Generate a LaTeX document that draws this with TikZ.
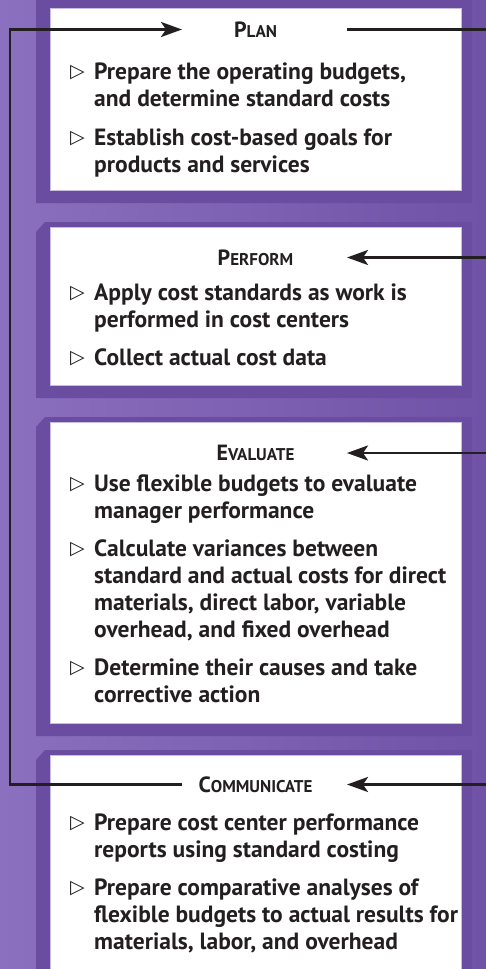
\documentclass[tikz,border=0pt]{standalone}
\usepackage{fontspec}
\setmainfont{PT Sans}
\newfontfamily\symfont{DejaVu Sans}
\usetikzlibrary{arrows.meta,positioning}

\definecolor{ink}{HTML}{231F20}
\definecolor{bgleft}{HTML}{8A70BE}
\definecolor{bgright}{HTML}{7052A6}
\definecolor{framec}{HTML}{6A4CA0}
\definecolor{boxedge}{HTML}{C9BCE2}

\newcommand\caphead[2]{{\fontsize{22}{22}\selectfont #1}{\fontsize{17}{17}\selectfont #2}}
\newcommand\pnt{\raisebox{1.5pt}{\symfont\fontsize{19}{19}\selectfont ▷}}
\newcommand\panelframe[2]{% top, bottom
  \fill[framec] (36,#1+5) -- (45,#1-5) -- (472,#1-5) -- (472,#2+13) -- (36,#2+13) -- cycle;}

\tikzset{
  panel/.style={fill=white, draw=boxedge, line width=0.8pt, anchor=north west,
    minimum width=411pt, inner sep=0pt},
  heading/.style={font=\bfseries, text=ink, inner sep=0pt},
  points/.style={anchor=base west, inner sep=0pt,
    font=\bfseries\fontsize{23.5}{27}\selectfont, text=ink},
  loopline/.style={draw=ink, line width=2.8pt},
  flow/.style={loopline, -{Stealth[length=21pt,width=15pt,inset=5pt]}}
}

\begin{document}
\begin{tikzpicture}[x=1pt,y=-1pt]
\useasboundingbox (0,0) rectangle (486,969);
\clip (0,0) rectangle (486,969);
\shade[left color=bgleft, right color=bgright] (0,0) rectangle (486,969);

% frames and white panels
\panelframe{-20}{190}
\panelframe{227}{385}
\panelframe{422}{723}
\panelframe{755}{990}

\node[panel, minimum height=182pt] (planbox) at (50,8) {};
\node[panel, minimum height=158pt] (perfbox) at (50,227) {};
\node[panel, minimum height=301pt] (evalbox) at (50,422) {};
\node[panel, minimum height=230pt] (commbox) at (50,755) {};

% headings
\node[heading] (plan) at (255.5,29.5) {\caphead{P}{LAN}};
\node[heading] (perform) at (255.5,257.5) {\caphead{P}{ERFORM}};
\node[heading] (evaluate) at (255.5,453) {\caphead{E}{VALUATE}};
\node[heading] (communicate) at (255.5,784.5) {\caphead{C}{OMMUNICATE}};

% bullet points
\node[points] (planpts) at (70,79) {\begin{tabular}[t]{@{}p{24pt}@{}l@{}}
  \pnt & Prepare the operating budgets,\\
       & and determine standard costs\\[12pt]
  \pnt & Establish cost-based goals for\\
       & products and services
\end{tabular}};
\node[points] (perfpts) at (70,300) {\begin{tabular}[t]{@{}p{24pt}@{}l@{}}
  \pnt & Apply cost standards as work is\\
       & performed in cost centers\\[11pt]
  \pnt & Collect actual cost data
\end{tabular}};
\node[points] (evalpts) at (70,491) {\begin{tabular}[t]{@{}p{24pt}@{}l@{}}
  \pnt & Use flexible budgets to evaluate\\
       & manager performance\\[11pt]
  \pnt & Calculate variances between\\
       & standard and actual costs for direct\\
       & materials, direct labor, variable\\
       & overhead, and fixed overhead\\[11pt]
  \pnt & Determine their causes and take\\
       & corrective action
\end{tabular}};
\node[points] (commpts) at (70,830) {\begin{tabular}[t]{@{}p{24pt}@{}l@{}}
  \pnt & Prepare cost center performance\\
       & reports using standard costing\\[11pt]
  \pnt & Prepare comparative analyses of\\
       & flexible budgets to actual results for\\
       & materials, labor, and overhead
\end{tabular}};

% arrow ends
\coordinate (planW) at ([xshift=-73.5pt]plan.center);
\coordinate (planE) at ([xshift=91.5pt]plan.center);
\coordinate (perfE) at ([xshift=91.5pt]perform.center);
\coordinate (evalE) at ([xshift=91.5pt]evaluate.center);
\coordinate (commW) at ([xshift=-73.5pt]communicate.center);
\coordinate (commE) at ([xshift=91.5pt]communicate.center);
\coordinate (leftx) at (10,0);
\coordinate (rightx) at (500,0);

% the cycle
\draw[flow] (commW) -| (leftx |- planW) -- (planW);
\draw[loopline] (planE) -| (rightx |- commE);
\draw[flow] (rightx |- perfE) -- (perfE);
\draw[flow] (rightx |- evalE) -- (evalE);
\draw[flow] (rightx |- commE) -- (commE);
\end{tikzpicture}
\end{document}
